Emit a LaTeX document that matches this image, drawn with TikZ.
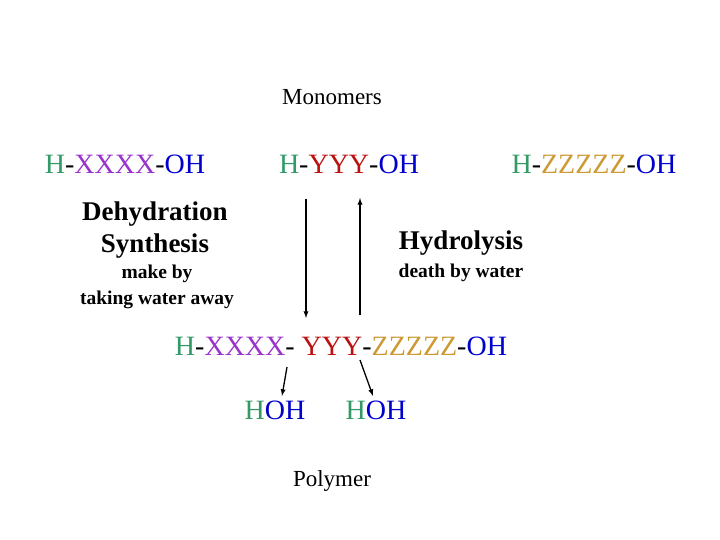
\documentclass[tikz,border=0pt]{standalone}
\usepackage{fontspec}
\setmainfont{Liberation Serif}
\definecolor{cg}{HTML}{339966}
\definecolor{cp}{HTML}{9933CC}
\definecolor{cr}{HTML}{BB1111}
\definecolor{cy}{HTML}{CC9933}
\definecolor{cb}{HTML}{0000CC}
\newcommand{\gH}{\textcolor{cg}{H}}
\newcommand{\bOH}{\textcolor{cb}{OH}}
\begin{document}
\begin{tikzpicture}[x=1pt,y=-1pt,
 formula/.style={font=\fontsize{28}{30}\selectfont, inner sep=0},
 big/.style={font=\bfseries\fontsize{27}{32}\selectfont, align=center, inner sep=0},
 small/.style={font=\bfseries\fontsize{19.5}{26}\selectfont, align=center, inner sep=0},
 plain/.style={font=\fontsize{23}{24}\selectfont, inner sep=0},
 arr/.style={-latex, line width=1.3pt}]
\useasboundingbox (0,0) rectangle (720,540);
\node[plain] (mono) at (332,97) {Monomers};
\node[formula] (x) at (125,164) {\gH-\textcolor{cp}{XXXX}-\bOH};
\node[formula] (y) at (349,164) {\gH-\textcolor{cr}{YYY}-\bOH};
\node[formula] (z) at (594,164) {\gH-\textcolor{cy}{ZZZZZ}-\bOH};
\node[big] (dh) at (155,230) {Dehydration\\Synthesis};
\node[small] (mk) at (157,287) {make by\\taking water away};
\node[big] (hy) at (461,243) {Hydrolysis};
\node[small] (dw) at (461,273) {death by water};
\node[formula] (p) at (341,346) {\gH-\textcolor{cp}{XXXX}- \textcolor{cr}{YYY}-\textcolor{cy}{ZZZZZ}-\bOH};
\node[formula] (h1) at (275,410) {\gH\bOH};
\node[formula] (h2) at (376,410) {\gH\bOH};
\node[plain] (poly) at (332,481) {Polymer};
\coordinate (d1) at (306,199); \coordinate (d2) at (306,318);
\coordinate (u1) at (360,315); \coordinate (u2) at (360,198);
\draw[arr] (d1) -- (d2);
\draw[arr] (u1) -- (u2);
\coordinate (a1) at (287,367); \coordinate (a2) at (282,396);
\coordinate (b1) at (360,360); \coordinate (b2) at (373,396);
\draw[arr] (a1) -- (a2);
\draw[arr] (b1) -- (b2);
\end{tikzpicture}
\end{document}
